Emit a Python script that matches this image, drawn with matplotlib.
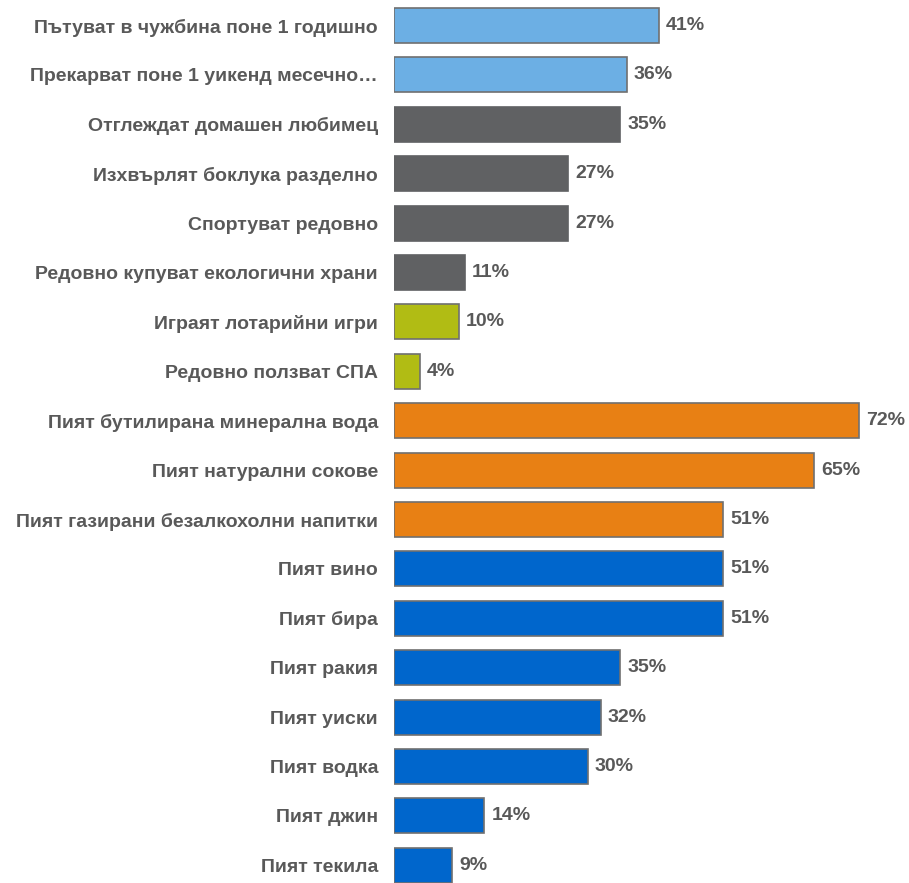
import matplotlib.pyplot as plt

plt.rcParams['font.family'] = ['Liberation Sans', 'DejaVu Sans']

labels = [
    "Пътуват в чужбина поне 1 годишно",
    "Прекарват поне 1 уикенд месечно…",
    "Отглеждат домашен любимец",
    "Изхвърлят боклука разделно",
    "Спортуват редовно",
    "Редовно купуват екологични храни",
    "Играят лотарийни игри",
    "Редовно ползват СПА",
    "Пият бутилирана минерална вода",
    "Пият натурални сокове",
    "Пият газирани безалкохолни напитки",
    "Пият вино",
    "Пият бира",
    "Пият ракия",
    "Пият уиски",
    "Пият водка",
    "Пият джин",
    "Пият текила",
]
values = [41, 36, 35, 27, 27, 11, 10, 4, 72, 65, 51, 51, 51, 35, 32, 30, 14, 9]
groups = ["travel", "travel", "home", "home", "home", "home", "game", "game",
          "soft", "soft", "soft", "alco", "alco", "alco", "alco", "alco", "alco", "alco"]

group_colors = {
    "travel": "#6CAFE4",
    "home": "#606163",
    "game": "#B1BC14",
    "soft": "#E88014",
    "alco": "#0066CC",
}

W, H = 909, 883
fig = plt.figure(figsize=(W / 100, H / 100), dpi=100)

# геометрия на зоната с барове, в пиксели
left_px = 394
px_per_pct = 6.46
xmax = 80
pitch = 49.4
first_center = 25.5
n = len(labels)
top_px = first_center - 0.5 * pitch
height_px = n * pitch

ax = fig.add_axes([left_px / W, 1 - (top_px + height_px) / H,
                   xmax * px_per_pct / W, height_px / H])
ax.set_xlim(0, xmax)
ax.set_ylim(n - 0.5, -0.5)

ypos = list(range(n))
for y, v, g in zip(ypos, values, groups):
    c = group_colors[g]
    ec = c if g == "home" else "#707070"
    ax.barh(y, v, height=0.71, color=c, edgecolor=ec, linewidth=1.2)
    ax.text(v + 1.1, y, f"{v}%", va="center", ha="left",
            fontsize=14, fontweight="bold", color="#595959")

ax.set_yticks(ypos)
ax.set_yticklabels(labels, fontsize=14, fontweight="bold", color="#595959")
ax.tick_params(axis="y", length=0, pad=11.5)
ax.set_xticks([])
for s in ax.spines.values():
    s.set_visible(False)

fig.savefig("out.png", dpi=100)
